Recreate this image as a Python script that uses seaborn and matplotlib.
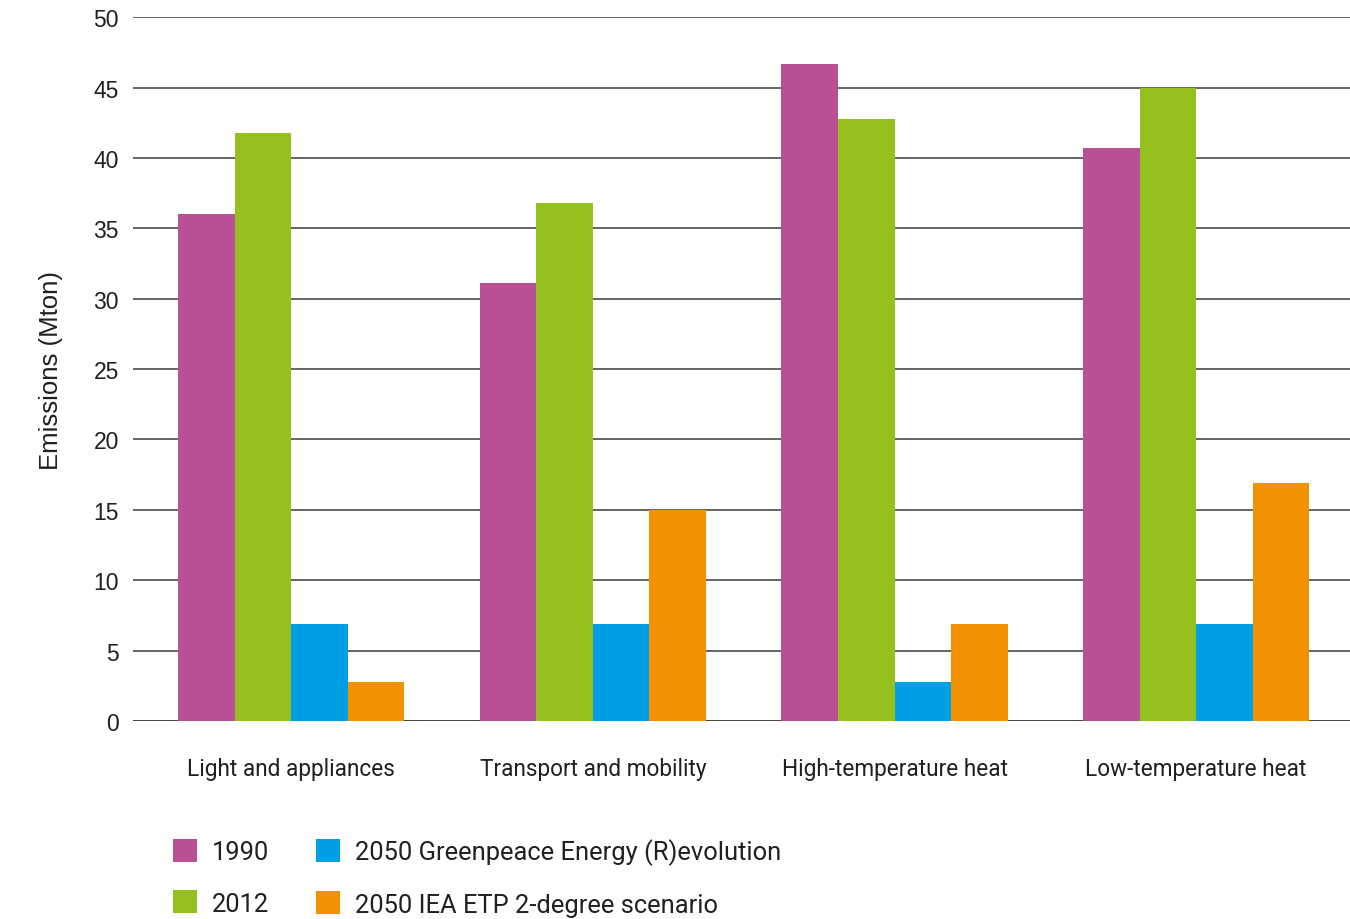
import matplotlib
matplotlib.use("Agg")
import matplotlib.pyplot as plt
from matplotlib.patches import Patch
import pandas as pd
import seaborn as sns

# Emission totals per energy-use category (Mton)
categories = ["Light and appliances", "Transport and mobility",
              "High-temperature heat", "Low-temperature heat"]
series = ["1990", "2012", "2050 Greenpeace Energy (R)evolution",
          "2050 IEA ETP 2-degree scenario"]
values_1990 = [36.0, 31.1, 46.7, 40.7]
values_2012 = [41.8, 36.8, 42.8, 45.0]
values_greenpeace = [6.9, 6.9, 2.8, 6.9]
values_iea = [2.8, 15.0, 6.9, 16.9]
y_ticks = [0, 5, 10, 15, 20, 25, 30, 35, 40, 45, 50]

colors = ["#B94F94", "#95C11F", "#009FE3", "#F39200"]

rows = []
for name, vals in zip(series, [values_1990, values_2012, values_greenpeace, values_iea]):
    for cat, v in zip(categories, vals):
        rows.append({"category": cat, "series": name, "value": v})
df = pd.DataFrame(rows)

sns.set_theme(style="white")
plt.rcParams["font.family"] = ["Liberation Sans", "DejaVu Sans"]

fig = plt.figure(figsize=(13.5, 9.2), dpi=100)
ax = fig.add_axes([0.0985, 0.2152, 0.9015, 0.765])

sns.barplot(data=df, x="category", y="value", hue="series", order=categories,
            hue_order=series, palette=colors, width=0.75, saturation=1,
            linewidth=0, errorbar=None, legend=False, ax=ax)

ax.set_ylim(0, 50)
ax.set_xlim(-0.525, 3.51)
ax.set_yticks(y_ticks)
ax.set_yticklabels([str(t) for t in y_ticks], fontsize=16.5, color="#231f20")
ax.set_axisbelow(True)
ax.yaxis.grid(True, color="#4a4a4a", linewidth=1.2)
ax.xaxis.grid(False)
for s in ax.spines.values():
    s.set_visible(False)
ax.axhline(0, color="#333333", linewidth=1.4, zorder=0.5)
ax.tick_params(axis="y", length=0, pad=10)
ax.tick_params(axis="x", length=0, pad=26)
ax.set_xticks(range(len(categories)))
ax.set_xticklabels(categories, fontsize=16.3, color="#231f20", family=["Roboto", "DejaVu Sans"])
ax.set_xlabel("")
ax.set_ylabel("Emissions (Mton)", fontsize=18.5, color="#231f20", labelpad=22)

handles = [Patch(facecolor=c, edgecolor="none") for c in colors]
leg = fig.legend(handles, series, loc="upper left", bbox_to_anchor=(0.128, 0.0875),
                 ncol=2, frameon=False, handlelength=0.94, handleheight=1.0,
                 handletextpad=0.59, columnspacing=1.83, labelspacing=1.02,
                 prop={"family": ["Roboto", "DejaVu Sans"], "size": 18.4},
                 borderaxespad=0, borderpad=0)
for t in leg.get_texts():
    t.set_color("#231f20")

fig.savefig("out.png", dpi=100, facecolor="white")
